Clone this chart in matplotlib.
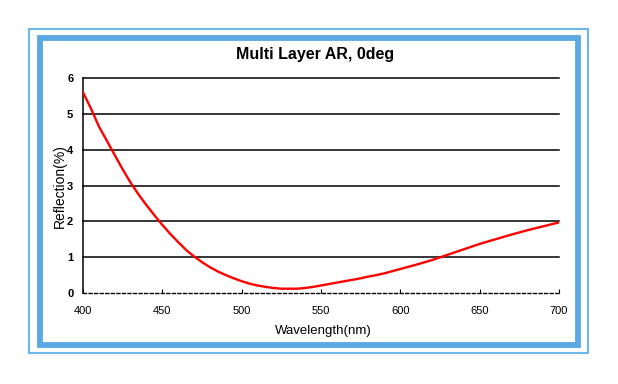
import numpy as np
import matplotlib.pyplot as plt
from matplotlib.patches import Rectangle

plt.rcParams['font.family'] = ['Liberation Sans', 'DejaVu Sans']

# reflection curve
wavelength = [400, 405, 410, 415, 420, 425, 430, 435, 440, 445, 450, 455, 460, 465,
              470, 475, 480, 485, 490, 495, 500, 505, 510, 515, 520, 525, 530, 535,
              540, 545, 550, 555, 560, 565, 570, 575, 580, 585, 590, 595, 600, 610,
              620, 630, 640, 650, 660, 670, 680, 690, 700]
reflection = [5.60, 5.15, 4.65, 4.25, 3.85, 3.45, 3.08, 2.75, 2.45, 2.17, 1.90, 1.65,
              1.42, 1.20, 1.02, 0.86, 0.72, 0.60, 0.50, 0.41, 0.33, 0.26, 0.21, 0.17,
              0.14, 0.12, 0.12, 0.12, 0.14, 0.17, 0.21, 0.25, 0.29, 0.33, 0.37, 0.41,
              0.46, 0.50, 0.55, 0.61, 0.67, 0.79, 0.92, 1.07, 1.22, 1.37, 1.50, 1.63,
              1.75, 1.86, 1.97]
xticks = [400, 450, 500, 550, 600, 650, 700]
yticks = [0, 1, 2, 3, 4, 5, 6]

W, H = 618, 384
fig = plt.figure(figsize=(W / 100, H / 100), dpi=100)

def px(x, y):
    return x / W, 1 - y / H

# blue frame: thin outer line and thick inner band
x0, y0 = px(29, 353)
fig.patches.append(Rectangle((x0, y0), (588 - 29) / W, (353 - 29) / H, transform=fig.transFigure,
                             fill=False, ec='#6bb6ea', lw=1.5))
x0, y0 = px(39.5, 344.5)
fig.patches.append(Rectangle((x0, y0), (578 - 39.5) / W, (344.5 - 37.5) / H, transform=fig.transFigure,
                             fill=False, ec='#5aa9e4', lw=4.2))

ax = fig.add_axes([83 / W, 1 - 293 / H, (559 - 83) / W, (293 - 78) / H])
ax.plot(wavelength, reflection, color='#ff0000', lw=1.7, zorder=3)

ax.set_xlim(400, 700)
ax.set_ylim(0, 6)
ax.set_xticks(xticks)
ax.set_yticks(yticks)
for v in yticks[1:]:
    ax.axhline(v, color='black', lw=1.1, zorder=1, clip_on=False)

for s in ['top', 'right']:
    ax.spines[s].set_visible(False)
ax.spines['left'].set_linewidth(1.1)
ax.spines['bottom'].set_linestyle((0, (2.2, 1.8)))
ax.spines['bottom'].set_linewidth(1.0)
ax.tick_params(axis='x', direction='in', length=3, width=0.8, pad=9, labelsize=8)
ax.tick_params(axis='y', length=0, pad=7, labelsize=8)
for lab in ax.get_yticklabels():
    lab.set_fontweight('bold')

tx, ty = px(315, 55)
fig.text(tx, ty, 'Multi Layer AR, 0deg', ha='center', va='center', fontsize=11.5, fontweight='bold')
tx, ty = px(323, 331)
fig.text(tx, ty, 'Wavelength(nm)', ha='center', va='center', fontsize=9.5)
tx, ty = px(60, 186)
fig.text(tx, ty, 'Reflection(%)', ha='center', va='center', fontsize=10, rotation=90)

fig.savefig('out.png', dpi=100)
